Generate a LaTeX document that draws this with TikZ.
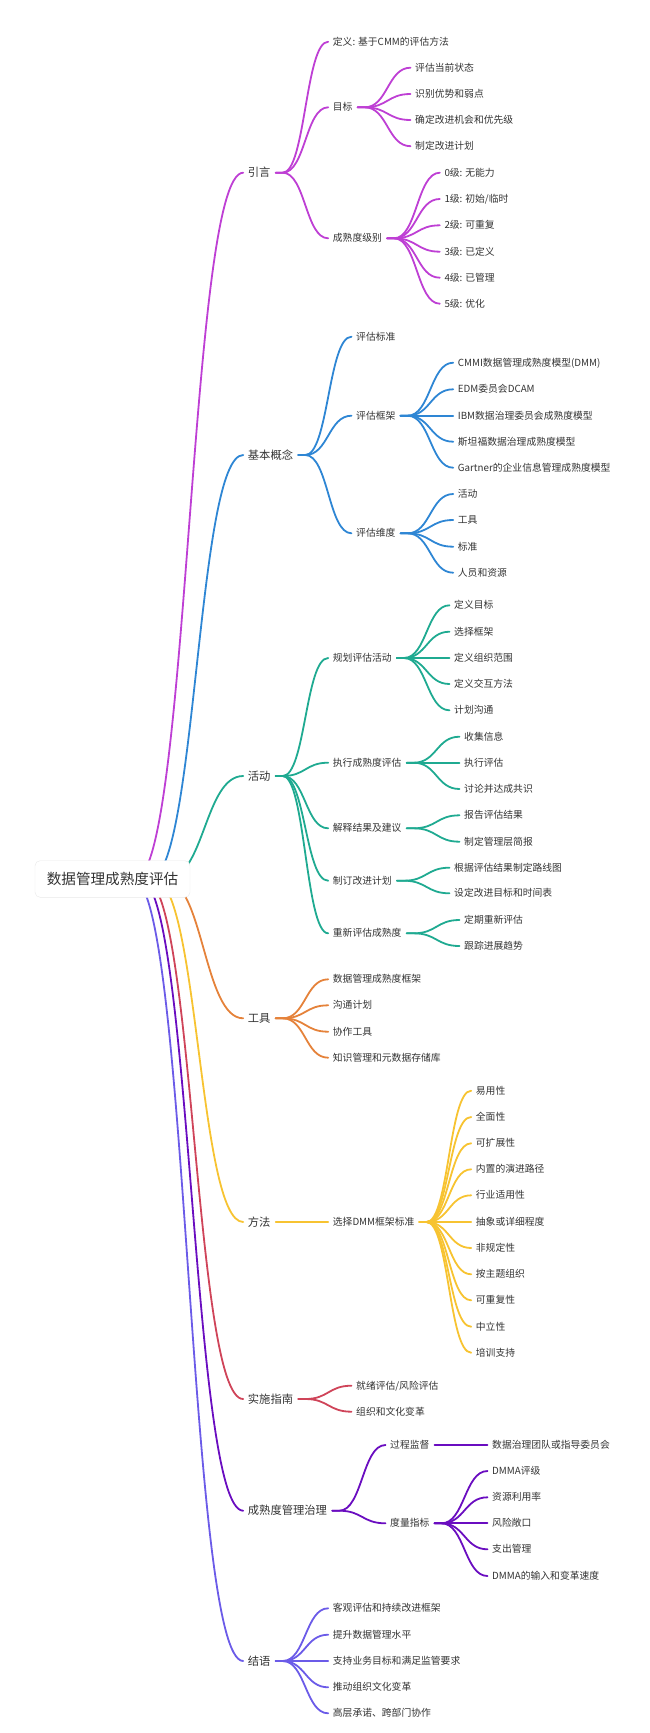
\documentclass[tikz,border=0pt]{standalone}
\usepackage{fontspec}
\setmainfont{Noto Sans CJK SC}
\usetikzlibrary{calc}
\definecolor{cMag}{HTML}{BE3FD4}
\definecolor{cBlue}{HTML}{2E86D4}
\definecolor{cTeal}{HTML}{1FAA91}
\definecolor{cOrg}{HTML}{E5823A}
\definecolor{cYel}{HTML}{F7C331}
\definecolor{cRed}{HTML}{CF4459}
\definecolor{cPur}{HTML}{6A0DC0}
\definecolor{cVio}{HTML}{6B5BE8}
\definecolor{txt}{HTML}{333333}
\tikzset{
  lvroot/.style={font=\fontsize{14.6}{16}\selectfont, text=txt, text height=12.8pt, text depth=2pt,
     draw=black!9, fill=white, rounded corners=5pt, minimum width=155pt, minimum height=36.6pt, inner sep=0pt},
  lvone/.style={anchor=west, inner sep=0pt, font=\fontsize{11.3}{13}\selectfont, text=txt, text height=9.9pt, text depth=1.5pt},
  lvtwo/.style={anchor=west, inner sep=0pt, font=\fontsize{9.8}{12}\selectfont, text=txt, text height=8.6pt, text depth=1.4pt},
  ln/.style={line width=1.8pt, line cap=round}
}
\newcommand\mmlink[3]{%
  \path ([xshift=12pt]#2.east) coordinate (lkS) ([xshift=-4.5pt]#3.west) coordinate (lkE)
        ($(lkS)!0.5!(lkE)$) coordinate (lkM);
  \draw[ln,#1] ([xshift=5pt]#2.east) -- (lkS) .. controls (lkS -| lkM) and (lkE -| lkM) .. (lkE);
}
\newcommand\rootlink[3]{%
  \path (#2) coordinate (lkS) ([xshift=-4.5pt]#3.west) coordinate (lkE)
        ($(lkS)!0.5!(lkE)$) coordinate (lkM);
  \draw[ln,#1] (lkS) .. controls (lkS -| lkM) and (lkE -| lkM) .. (lkE);
}
\begin{document}
\begin{tikzpicture}[x=1pt,y=-1pt]
\useasboundingbox (0,0) rectangle (650,1733);
% level 1
\node[lvone] (yy) at (247.7,172.7) {引言};
\node[lvone] (jb) at (247.7,455) {基本概念};
\node[lvone] (hd) at (247.7,776) {活动};
\node[lvone] (gj) at (247.7,1018.3) {工具};
\node[lvone] (ff) at (247.7,1222) {方法};
\node[lvone] (ss) at (247.7,1399) {实施指南};
\node[lvone] (zl) at (247.7,1510.7) {成熟度管理治理};
\node[lvone] (jy) at (247.7,1661) {结语};
% 引言
\node[lvtwo] (a1) at (332.7,41.7) {定义: 基于CMM的评估方法};
\node[lvtwo] (a2) at (332.7,107.3) {目标};
\node[lvtwo] (a3) at (332.7,238.3) {成熟度级别};
\node[lvtwo] (a21) at (415,67.7) {评估当前状态};
\node[lvtwo] (a22) at (415,94) {识别优势和弱点};
\node[lvtwo] (a23) at (415,120) {确定改进机会和优先级};
\node[lvtwo] (a24) at (415,146.2) {制定改进计划};
\node[lvtwo] (a31) at (444.3,172.7) {0级: 无能力};
\node[lvtwo] (a32) at (444.3,199) {1级: 初始/临时};
\node[lvtwo] (a33) at (444.3,225.3) {2级: 可重复};
\node[lvtwo] (a34) at (444.3,251.7) {3级: 已定义};
\node[lvtwo] (a35) at (444.3,277.7) {4级: 已管理};
\node[lvtwo] (a36) at (444.3,303.7) {5级: 优化};
% 基本概念
\node[lvtwo] (b1) at (356,336.7) {评估标准};
\node[lvtwo] (b2) at (356,415.7) {评估框架};
\node[lvtwo] (b3) at (356,533.3) {评估维度};
\node[lvtwo] (b21) at (457.7,362.7) {CMMI数据管理成熟度模型(DMM)};
\node[lvtwo] (b22) at (457.7,389.3) {EDM委员会DCAM};
\node[lvtwo] (b23) at (457.7,415.7) {IBM数据治理委员会成熟度模型};
\node[lvtwo] (b24) at (457.7,441.7) {斯坦福数据治理成熟度模型};
\node[lvtwo] (b25) at (457.7,467.7) {Gartner的企业信息管理成熟度模型};
\node[lvtwo] (b31) at (457.7,494) {活动};
\node[lvtwo] (b32) at (457.7,520) {工具};
\node[lvtwo] (b33) at (457.7,546.7) {标准};
\node[lvtwo] (b34) at (457.7,572.7) {人员和资源};
% 活动
\node[lvtwo] (c1) at (332.7,658) {规划评估活动};
\node[lvtwo] (c2) at (332.7,762.7) {执行成熟度评估};
\node[lvtwo] (c3) at (332.7,828.3) {解释结果及建议};
\node[lvtwo] (c4) at (332.7,880.7) {制订改进计划};
\node[lvtwo] (c5) at (332.7,933.3) {重新评估成熟度};
\node[lvtwo] (c11) at (454,605.3) {定义目标};
\node[lvtwo] (c12) at (454,631.7) {选择框架};
\node[lvtwo] (c13) at (454,658) {定义组织范围};
\node[lvtwo] (c14) at (454,684) {定义交互方法};
\node[lvtwo] (c15) at (454,710.3) {计划沟通};
\node[lvtwo] (c21) at (464,736.7) {收集信息};
\node[lvtwo] (c22) at (464,762.7) {执行评估};
\node[lvtwo] (c23) at (464,789) {讨论并达成共识};
\node[lvtwo] (c31) at (464,815.3) {报告评估结果};
\node[lvtwo] (c32) at (464,841.7) {制定管理层简报};
\node[lvtwo] (c41) at (454,867.7) {根据评估结果制定路线图};
\node[lvtwo] (c42) at (454,893.3) {设定改进目标和时间表};
\node[lvtwo] (c51) at (464,920) {定期重新评估};
\node[lvtwo] (c52) at (464,946) {跟踪进展趋势};
% 工具
\node[lvtwo] (d1) at (332.7,979.3) {数据管理成熟度框架};
\node[lvtwo] (d2) at (332.7,1005.3) {沟通计划};
\node[lvtwo] (d3) at (332.7,1031.7) {协作工具};
\node[lvtwo] (d4) at (332.7,1057.7) {知识管理和元数据存储库};
% 方法
\node[lvtwo] (e1) at (332.7,1222) {选择DMM框架标准};
\node[lvtwo] (e1a) at (475.7,1090.7) {易用性};
\node[lvtwo] (e1b) at (475.7,1117) {全面性};
\node[lvtwo] (e1c) at (475.7,1143.3) {可扩展性};
\node[lvtwo] (e1d) at (475.7,1169.3) {内置的演进路径};
\node[lvtwo] (e1e) at (475.7,1195.3) {行业适用性};
\node[lvtwo] (e1f) at (475.7,1222) {抽象或详细程度};
\node[lvtwo] (e1g) at (475.7,1248) {非规定性};
\node[lvtwo] (e1h) at (475.7,1274.3) {按主题组织};
\node[lvtwo] (e1i) at (475.7,1300.3) {可重复性};
\node[lvtwo] (e1j) at (475.7,1326.7) {中立性};
\node[lvtwo] (e1k) at (475.7,1352.7) {培训支持};
% 实施指南
\node[lvtwo] (f1) at (356,1385.7) {就绪评估/风险评估};
\node[lvtwo] (f2) at (356,1411.7) {组织和文化变革};
% 成熟度管理治理
\node[lvtwo] (g1) at (390,1445) {过程监督};
\node[lvtwo] (g2) at (390,1523.3) {度量指标};
\node[lvtwo] (g11) at (492,1445) {数据治理团队或指导委员会};
\node[lvtwo] (g21) at (492,1471) {DMMA评级};
\node[lvtwo] (g22) at (492,1497.3) {资源利用率};
\node[lvtwo] (g23) at (492,1523.3) {风险敞口};
\node[lvtwo] (g24) at (492,1549.3) {支出管理};
\node[lvtwo] (g25) at (492,1576) {DMMA的输入和变革速度};
% 结语
\node[lvtwo] (h1) at (332.7,1608.3) {客观评估和持续改进框架};
\node[lvtwo] (h2) at (332.7,1634.7) {提升数据管理水平};
\node[lvtwo] (h3) at (332.7,1661) {支持业务目标和满足监管要求};
\node[lvtwo] (h4) at (332.7,1687.3) {推动组织文化变革};
\node[lvtwo] (h5) at (332.7,1713.3) {高层承诺、跨部门协作};
% edges level 1 -> 2 and deeper
\foreach \c in {a1,a2,a3} {\mmlink{cMag}{yy}{\c}}
\foreach \c in {a21,a22,a23,a24} {\mmlink{cMag}{a2}{\c}}
\foreach \c in {a31,a32,a33,a34,a35,a36} {\mmlink{cMag}{a3}{\c}}
\foreach \c in {b1,b2,b3} {\mmlink{cBlue}{jb}{\c}}
\foreach \c in {b21,b22,b23,b24,b25} {\mmlink{cBlue}{b2}{\c}}
\foreach \c in {b31,b32,b33,b34} {\mmlink{cBlue}{b3}{\c}}
\foreach \c in {c1,c2,c3,c4,c5} {\mmlink{cTeal}{hd}{\c}}
\foreach \c in {c11,c12,c13,c14,c15} {\mmlink{cTeal}{c1}{\c}}
\foreach \c in {c21,c22,c23} {\mmlink{cTeal}{c2}{\c}}
\foreach \c in {c31,c32} {\mmlink{cTeal}{c3}{\c}}
\foreach \c in {c41,c42} {\mmlink{cTeal}{c4}{\c}}
\foreach \c in {c51,c52} {\mmlink{cTeal}{c5}{\c}}
\foreach \c in {d1,d2,d3,d4} {\mmlink{cOrg}{gj}{\c}}
\mmlink{cYel}{ff}{e1}
\foreach \c in {e1a,e1b,e1c,e1d,e1e,e1f,e1g,e1h,e1i,e1j,e1k} {\mmlink{cYel}{e1}{\c}}
\foreach \c in {f1,f2} {\mmlink{cRed}{ss}{\c}}
\foreach \c in {g1,g2} {\mmlink{cPur}{zl}{\c}}
\mmlink{cPur}{g1}{g11}
\foreach \c in {g21,g22,g23,g24,g25} {\mmlink{cPur}{g2}{\c}}
\foreach \c in {h1,h2,h3,h4,h5} {\mmlink{cVio}{jy}{\c}}
% root edges
\coordinate (r1) at (135,879);
\coordinate (r2) at (150,879);
\coordinate (r3) at (166,879);
\coordinate (r4) at (164,879);
\coordinate (r5) at (154,879);
\coordinate (r6) at (145,879);
\coordinate (r7) at (140,879);
\coordinate (r8) at (133,879);
\rootlink{cMag}{r1}{yy}
\rootlink{cBlue}{r2}{jb}
\rootlink{cTeal}{r3}{hd}
\rootlink{cOrg}{r4}{gj}
\rootlink{cYel}{r5}{ff}
\rootlink{cRed}{r6}{ss}
\rootlink{cPur}{r7}{zl}
\rootlink{cVio}{r8}{jy}
% root
\node[lvroot] (root) at (112.5,879) {数据管理成熟度评估};
\end{tikzpicture}
\end{document}
